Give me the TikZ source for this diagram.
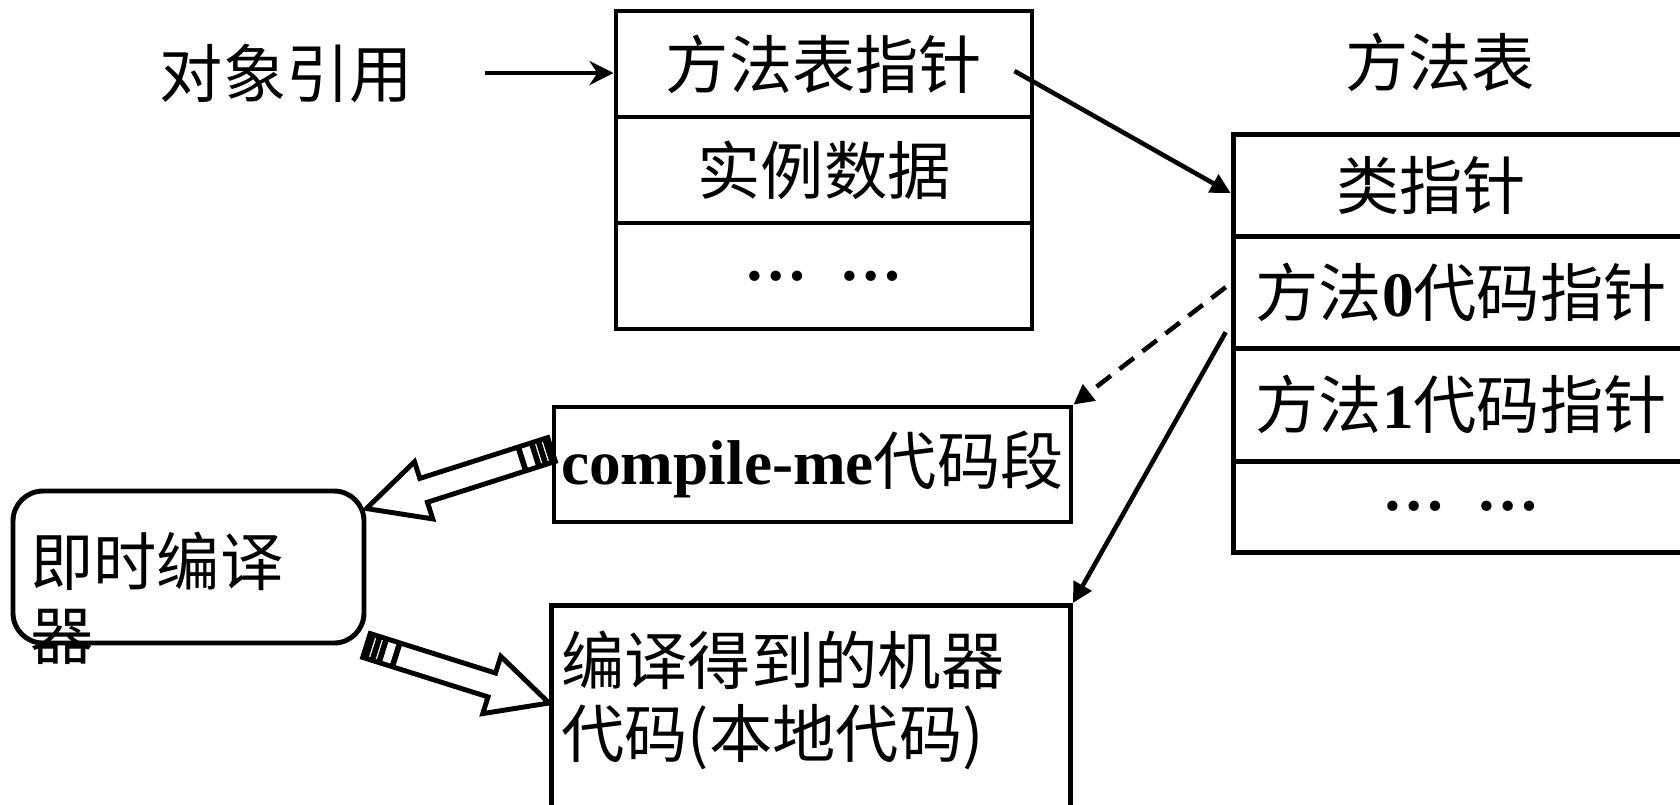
\documentclass[tikz,border=0pt]{standalone}
\usepackage{fontspec}
\setmainfont{Noto Sans CJK SC}
\newfontfamily\tms{Liberation Serif}
\usepackage{tikz}
\usetikzlibrary{matrix, calc, arrows.meta}

% hollow arrow with a banded tail, from #1 (tail) to #2 (tip)
\newcommand{\hollowarrow}[2]{%
	\draw[line width=1.4pt, fill=white, line join=miter]
		($(#1)!0.125cm!90:(#2)$) --
		($(#2)!0.6cm!(#1)!0.125cm!-90:(#1)$) --
		($(#2)!0.6cm!(#1)!0.3cm!-90:(#1)$) --
		(#2) --
		($(#2)!0.6cm!(#1)!0.3cm!90:(#1)$) --
		($(#2)!0.6cm!(#1)!0.125cm!90:(#1)$) --
		($(#1)!0.125cm!-90:(#2)$) -- cycle;
	\foreach \d in {0.03,0.1,0.17,0.31}
		\draw[line width=1.6pt] ($(#1)!\d cm!(#2)!0.125cm!90:(#2)$) -- ($(#1)!\d cm!(#2)!0.125cm!-90:(#2)$);
}

\begin{document}
\begin{tikzpicture}[
	font=\fontsize{18}{21}\selectfont,
	cell/.style={rectangle, draw=black, line width=1.4pt},
	ptr/.style={line width=1.3pt, -{Triangle[length=2mm,width=2mm]}},
]
	\useasboundingbox (0,0) rectangle (16.8,-8.04);
	\clip (0,0) rectangle (16.8,-8.04);

	\node (ref) at (2.865,-0.73) {对象引用};
	\node (mtitle) at (14.40,-0.62) {方法表};

	\matrix (obj) [matrix of nodes, row sep=-1.4pt, inner sep=0pt,
	nodes={cell, minimum width=4.16cm, minimum height=1.06cm}] at (8.24,-1.70)
	{
		方法表指针 \\
		实例数据 \\
		{\tms\bfseries …\enspace …} \\
	};

	\matrix (mtab) [matrix of nodes, row sep=-1.4pt, inner sep=0pt, anchor=north west,
	nodes={cell, minimum width=4.56cm}] at (12.30,-1.31)
	{
		|[minimum height=1.02cm]| 类指针\hspace{0.6cm} \\
		|[minimum height=1.12cm]| 方法{\tms\bfseries 0}代码指针 \\
		|[minimum height=1.13cm]| 方法{\tms\bfseries 1}代码指针 \\
		|[minimum height=0.91cm]| {\tms\bfseries …\enspace …} \\
	};

	\node (cme) [cell, minimum width=5.17cm, minimum height=1.15cm, inner sep=0pt] at (8.125,-4.645) {{\tms\bfseries compile-me}代码段};

	\node (jit) [cell, rounded corners=3mm, minimum width=3.51cm, minimum height=1.52cm] at (1.885,-5.67) {};
	\node (jitname) [anchor=north west, align=left, inner sep=0pt] at ([xshift=1.9mm,yshift=-4.3mm]jit.north west) {即时编译\\器};

	\node (mcode) [cell, anchor=north west, align=left, text width=4.99cm, inner xsep=1mm, inner ysep=2.5mm, text depth=2cm] at (5.49,-6.03) {编译得到的机器\\代码(本地代码)};

	% pointers
	\draw[line width=1.3pt, -{Stealth[length=2.4mm,width=2.4mm]}, shorten <=0.6cm] (ref.east) -- (ref.east -| obj-1-1.west);
	\draw[ptr] ([xshift=-2mm,yshift=-0.7mm]obj-1-1.east) -- ([yshift=-0.8mm]mtab-1-1.west);
	\draw[ptr, dash pattern=on 1.8mm off 1.1mm] ([xshift=-0.5mm,yshift=0.5mm]mtab-2-1.west) -- (cme.north east);
	\draw[ptr] ([xshift=-0.5mm,yshift=-4mm]mtab-2-1.west) -- (mcode.north east);

	\hollowarrow{[yshift=0.15cm]cme.west}{[yshift=-0.2cm]jit.north east}
	\hollowarrow{jit.south east}{[yshift=-1cm]mcode.north west}

\end{tikzpicture}
\end{document}
